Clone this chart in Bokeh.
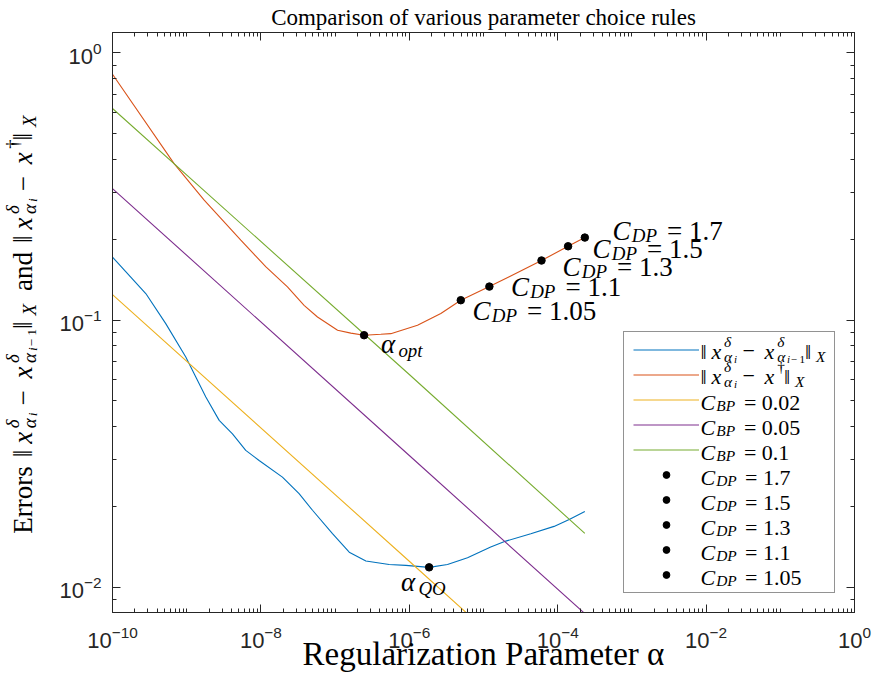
import math
from bokeh.plotting import figure
from bokeh.layouts import row
from bokeh.models import (Range1d, LogAxis, FixedTicker, LogTickFormatter, Label,
                          Legend, LegendItem)
from bokeh.embed import file_html
from bokeh.resources import INLINE

# ---------------- data ----------------
# ||x_alpha_i - x_dagger||  (orange)
alpha_err = [1e-10, 6.76e-10, 1.72e-9, 5.36e-9, 1.17e-8, 2.28e-8, 3.82e-8, 5.79e-8,
             1.08e-7, 1.63e-7, 2.46e-7, 4.13e-7, 5.63e-7, 1.29e-6, 2.66e-6, 4.94e-6,
             1.20e-5, 6.05e-5, 1.38e-4, 2.32e-4]
err_total = [0.832, 0.385, 0.281, 0.199, 0.158, 0.133, 0.1135, 0.1026,
             0.0915, 0.0893, 0.0877, 0.0884, 0.0889, 0.0955, 0.1057, 0.1186,
             0.1334, 0.167, 0.1888, 0.2035]

# ||x_alpha_i - x_alpha_{i-1}||  (blue)
alpha_diff = [1e-10, 2.81e-10, 5.22e-10, 9.72e-10, 1.81e-9, 2.74e-9, 4.14e-9, 6.25e-9,
              9.46e-9, 1.95e-8, 3.27e-8, 4.96e-8, 9.22e-8, 1.55e-7, 2.60e-7, 5.35e-7,
              8.98e-7, 1.85e-6, 3.27e-6, 6.09e-6, 1.25e-5, 2.0e-5, 4.34e-5, 8.93e-5,
              1.43e-4, 2.32e-4]
err_diff = [0.172, 0.1256, 0.0969, 0.0727, 0.0515, 0.0421, 0.0375, 0.0325,
            0.0298, 0.0258, 0.0224, 0.0194, 0.01585, 0.01352, 0.01252, 0.01216,
            0.01206, 0.01186, 0.01216, 0.01289, 0.01412, 0.01487, 0.01585, 0.01688,
            0.01793, 0.0192]

# balancing-principle lines C_BP
bp_alpha = [1e-10, 1e-6, 2.32e-4]
bp_002 = [0.1245, 0.0125, 0.00319]
bp_005 = [0.3105, 0.0311, 0.00796]
bp_01 = [0.619, 0.0625, 0.0159]

# discrepancy-principle points C_DP
cdp_names = ["1.7", "1.5", "1.3", "1.1", "1.05"]
cdp_alpha = [2.32e-4, 1.38e-4, 6.05e-5, 1.20e-5, 4.94e-6]
cdp_err = [0.2035, 0.1888, 0.167, 0.1334, 0.1186]

# optimal and quasi-optimal choices
alpha_opt = [2.46e-7]
err_opt = [0.0877]
alpha_qo = [1.85e-6]
diff_qo = [0.01186]

# axis ranges and ticks
x_lim = (1e-10, 1.0)
y_lim = (0.008036, 1.192)
x_major = [1e-10, 1e-8, 1e-6, 1e-4, 1e-2, 1e0]
y_major = [1e-2, 1e-1, 1e0]
x_minor = [m * 10.0 ** k for k in range(-10, 0) for m in range(1, 10)
           if not (m == 1 and k % 2 == 0)]
y_minor = [m * 10.0 ** k for k in range(-3, 1) for m in range(2, 10)]

# ---------------- styles ----------------
C_BLUE, C_ORANGE, C_YELLOW, C_PURPLE, C_GREEN = "#0072BD", "#D95319", "#EDB120", "#7E2F8E", "#77AC30"
AX = "#262626"
SERIF = "Liberation Serif"
SANS = "Liberation Sans"
LW = 1.1

LEFT_W = 52            # width of the strip that carries the y-axis title
CANVAS_H = 696
FRAME_TOP, FRAME_H = 32, 580

p = figure(x_axis_type="log", y_axis_type="log",
           x_range=Range1d(*x_lim), y_range=Range1d(*y_lim),
           frame_width=742, frame_height=FRAME_H,
           min_border_left=112 - LEFT_W, min_border_right=20,
           min_border_top=FRAME_TOP, min_border_bottom=CANVAS_H - FRAME_TOP - FRAME_H,
           output_backend="svg", toolbar_location=None,
           title="Comparison of various parameter choice rules")
p.background_fill_color = "white"
p.border_fill_color = "white"
p.outline_line_color = AX
p.xgrid.visible = False
p.ygrid.visible = False

p.title.text_font = SERIF
p.title.text_font_size = "23px"
p.title.text_font_style = "normal"
p.title.text_color = "black"
p.title.align = "center"
p.title.standoff = 5

xt = FixedTicker(ticks=x_major, minor_ticks=x_minor)
yt = FixedTicker(ticks=y_major, minor_ticks=y_minor)


def style_axis(ax, labels=True):
    ax.axis_line_color = AX
    ax.major_tick_line_color = AX
    ax.minor_tick_line_color = AX
    ax.major_tick_in = 8
    ax.major_tick_out = 0
    ax.minor_tick_in = 4
    ax.minor_tick_out = 0
    if labels:
        ax.major_label_text_font = SANS
        ax.major_label_text_font_size = "22px"
        ax.major_label_text_color = AX
        ax.major_label_standoff = 13
    else:
        ax.major_label_text_font_size = "1px"
        ax.major_label_text_color = None
        ax.major_label_standoff = 0


p.xaxis.ticker = xt
p.yaxis.ticker = yt
p.xaxis.formatter = LogTickFormatter()
p.yaxis.formatter = LogTickFormatter()
style_axis(p.xaxis[0])
style_axis(p.yaxis[0])
p.yaxis.major_label_standoff = 11
p.xaxis.axis_label = "Regularization Parameter α"
p.xaxis.axis_label_text_font = SERIF
p.xaxis.axis_label_text_font_size = "33px"
p.xaxis.axis_label_text_font_style = "normal"
p.xaxis.axis_label_text_color = "black"
p.xaxis.axis_label_standoff = -15

top = LogAxis(ticker=xt, formatter=LogTickFormatter())
style_axis(top, labels=False)
p.add_layout(top, "above")
right = LogAxis(ticker=yt, formatter=LogTickFormatter())
style_axis(right, labels=False)
p.add_layout(right, "right")

# ---------------- curves ----------------
r_diff = p.line(alpha_diff, err_diff, line_color=C_BLUE, line_width=LW)
r_err = p.line(alpha_err, err_total, line_color=C_ORANGE, line_width=LW)
r_b1 = p.line(bp_alpha, bp_002, line_color=C_YELLOW, line_width=LW)
r_b2 = p.line(bp_alpha, bp_005, line_color=C_PURPLE, line_width=LW)
r_b3 = p.line(bp_alpha, bp_01, line_color=C_GREEN, line_width=LW)
r_dp = [p.scatter([a], [e], size=7.5, fill_color="black", line_color="black")
        for a, e in zip(cdp_alpha, cdp_err)]
p.scatter(alpha_opt, err_opt, size=7.5, fill_color="black", line_color="black")
p.scatter(alpha_qo, diff_qo, size=7.5, fill_color="black", line_color="black")

# ---------------- legend (glyph samples; the texts are typeset below) ----------------
legend_renderers = [r_diff, r_err, r_b1, r_b2, r_b3] + r_dp
legend = Legend(items=[LegendItem(label=" ", renderers=[r]) for r in legend_renderers],
                location=(511, 19), padding=9, spacing=8, margin=0,
                glyph_width=66, glyph_height=17, label_height=17, label_width=124,
                label_standoff=2, label_text_font_size="10px",
                border_line_color=AX, border_line_width=1,
                background_fill_color="white", background_fill_alpha=0.0,
                level="underlay")
p.add_layout(legend)

# ---------------- typeset-like text made of pieces ----------------
MATH = {'x': .572, 'C': .715, 'D': .828, 'P': .642, 'B': .759, 'X': .828, 'Q': .791,
        'O': .763, 'i': .345, 'o': .485, 'p': .503, 't': .361, 'α': .640, 'δ': .444,
        '‖': .5, '−': .778, '1': .5, '†': .444}
TIMES = {' ': .25, '.': .25, '=': .564, '−': .564, 'a': .444, 'n': .5, 'd': .5,
         'E': .611, 'r': .333, 'o': .5, 's': .389}
for _d in "0123456789":
    TIMES[_d] = .5


def piece_width(text, kind):
    table = TIMES if kind == "t" else MATH
    return sum(table.get(c, .5) for c in text)


def rich(fig, tokens, x, y, s, ox=0.0, oy=0.0, angle=0.0):
    """tokens: (text, kind, scale, dy_em[, advance_em]); kind in mi/mr/t/gap.
    (x, y) is a data anchor, ox/oy are pixel offsets (oy upwards)."""
    cum = 0.0
    for tok in tokens:
        text, kind, scale, dy = tok[:4]
        size = s * scale
        if kind == "gap":
            cum += scale * s
            continue
        if angle == 0.0:
            xo, yo = ox + cum, oy + dy * s
        else:
            xo, yo = ox - dy * s, oy + cum
        fig.add_layout(Label(x=x, y=y, x_offset=xo, y_offset=yo, text=text, angle=angle,
                             level="overlay",
                             text_font=SERIF,
                             text_font_style="italic" if kind == "mi" else "normal",
                             text_font_size="%.1fpx" % size, text_color="black",
                             text_align="left", text_baseline="alphabetic"))
        adv = tok[4] if len(tok) > 4 else piece_width(text, kind)
        cum += adv * size


def total_width(tokens, s):
    w = 0.0
    for tok in tokens:
        text, kind, scale, dy = tok[:4]
        if kind == "gap":
            w += scale * s
        else:
            w += (tok[4] if len(tok) > 4 else piece_width(text, kind)) * s * scale
    return w


def norm_diff(sup):
    return [("‖", "mr", 1, 0), ("x", "mi", 1, 0), ("δ", "mi", .7, sup, 0.0),
            ("α", "mi", .7, -.25), ("i", "mi", .5, -.37),
            ("", "gap", .222, 0), ("−", "mr", 1, 0), ("", "gap", .222, 0),
            ("x", "mi", 1, 0), ("δ", "mi", .7, sup, 0.0), ("α", "mi", .7, -.25),
            ("i", "mi", .5, -.37), ("−", "mr", .5, -.37), ("1", "mr", .5, -.37),
            ("‖", "mr", 1, 0), ("X", "mi", .7, -.25)]


def norm_err(sup):
    return [("‖", "mr", 1, 0), ("x", "mi", 1, 0), ("δ", "mi", .7, sup, 0.0),
            ("α", "mi", .7, -.25), ("i", "mi", .5, -.37),
            ("", "gap", .222, 0), ("−", "mr", 1, 0), ("", "gap", .222, 0),
            ("x", "mi", 1, 0), ("†", "mr", .7, sup),
            ("‖", "mr", 1, 0), ("X", "mi", .7, -.25)]


def c_label(sub, val):
    return [("C", "mi", 1, 0), (sub, "mi", .7, -.17), ("", "gap", .278, 0), ("= " + val, "t", 1, 0)]


# legend texts: anchored at the frame's lower-left corner, offsets in px
LEG_S = 22
legend_texts = ([norm_diff(.42), norm_err(.42)] + [c_label("BP", v) for v in ["0.02", "0.05", "0.1"]]
                + [c_label("DP", v) for v in cdp_names])
for i, toks in enumerate(legend_texts):
    yc = 261.5 - 25 * i
    drop = 0 if i < 2 else 1
    rich(p, toks, x_lim[0], y_lim[0], LEG_S, ox=588.0, oy=yc - drop)

# C_DP point labels (offsets in px: right, down)
cdp_offsets = [(27.7, 1.0), (24.4, 10.7), (21.0, 14.7), (21.5, 8.7), (11.7, 18.3)]
for a, e, v, (dx, dd) in zip(cdp_alpha, cdp_err, cdp_names, cdp_offsets):
    rich(p, c_label("DP", v), a, e, 27, ox=dx, oy=8.0 - dd)

# alpha_opt and alpha_QO labels
rich(p, [("α", "mi", 1, 0), ("opt", "mi", .7, -.22)], alpha_opt[0], err_opt[0], 27, ox=17, oy=-9)
rich(p, [("α", "mi", 1, 0), ("QO", "mi", .7, -.22)], alpha_qo[0], diff_qo[0], 27, ox=-28, oy=-15)

# ---------------- strip on the left carrying the rotated y-axis title ----------------
side = figure(width=LEFT_W, height=CANVAS_H, x_range=Range1d(0, 1), y_range=Range1d(0, 1),
              x_axis_location=None, y_axis_location=None, min_border=0,
              output_backend="svg", toolbar_location=None)
side.outline_line_color = None
side.grid.visible = False
side.background_fill_color = "white"
side.border_fill_color = "white"

Y_S = 27
YLABEL = ([("Errors", "t", 1, 0), ("", "gap", .333, 0)] + norm_diff(.38)
          + [("", "gap", .333, 0), ("and", "t", 1, 0), ("", "gap", .333, 0)] + norm_err(.38))
L = total_width(YLABEL, Y_S)
# the strip's y=0 lines up with the bottom of the main frame
rich(side, YLABEL, 0.0, 0.0, Y_S, ox=22.0, oy=FRAME_H / 2 - L / 2, angle=math.pi / 2)

layout = row(side, p, spacing=0)
open("out.html", "w").write(file_html(layout, INLINE))
